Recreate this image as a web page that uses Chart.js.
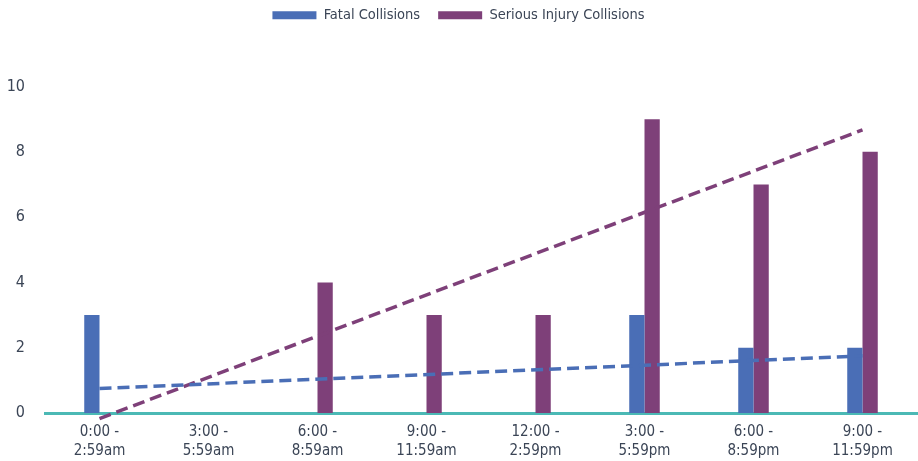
<!DOCTYPE html>
<html>
<head>
<meta charset="utf-8">
<script src="https://cdn.jsdelivr.net/npm/chart.js@4"></script>
<style>
  html, body { margin: 0; padding: 0; background: #fff; }
  #wrap { width: 918px; height: 461px; position: relative; }
</style>
</head>
<body>
<div id="wrap"><canvas id="chart"></canvas></div>
<script>
const categorias = [
  ["0:00 -", "2:59am"],
  ["3:00 -", "5:59am"],
  ["6:00 -", "8:59am"],
  ["9:00 -", "11:59am"],
  ["12:00 -", "2:59pm"],
  ["3:00 -", "5:59pm"],
  ["6:00 -", "8:59pm"],
  ["9:00 -", "11:59pm"]
];
const fatales = [3, 0, 0, 0, 0, 3, 2, 2];
const graves = [0, 0, 4, 3, 3, 9, 7, 8];
// tendencia lineal: valor al inicio y al final
const tendFatal = [0.75, null, null, null, null, null, null, 1.75];
const tendGraves = [-0.17, null, null, null, null, null, null, 8.67];
const ticksY = [0, 2, 4, 6, 8, 10];

const azul = "#4A6EB6";
const morado = "#7E4079";
const teal = "#4BB9B5";
const texto = "#3B4556";
const fuente = "'DejaVu Sans Condensed', 'Roboto', sans-serif";

// deja mas espacio bajo la leyenda
const espacioLeyenda = {
  id: "espacioLeyenda",
  beforeInit(chart) {
    const fitOriginal = chart.legend.fit;
    chart.legend.fit = function () {
      fitOriginal.bind(chart.legend)();
      this.height += 54;
    };
  }
};

const ctx = document.getElementById("chart").getContext("2d");
new Chart(ctx, {
  type: "bar",
  plugins: [espacioLeyenda],
  data: {
    labels: categorias,
    datasets: [
      {
        label: "Fatal Collisions",
        data: fatales,
        backgroundColor: azul,
        order: 2,
        categoryPercentage: 0.28,
        barPercentage: 1.0
      },
      {
        label: "Serious Injury Collisions",
        data: graves,
        backgroundColor: morado,
        order: 2,
        categoryPercentage: 0.28,
        barPercentage: 1.0
      },
      {
        type: "line",
        label: "tendFatal",
        data: tendFatal,
        borderColor: azul,
        borderWidth: 3.5,
        borderDash: [12, 6],
        pointRadius: 0,
        spanGaps: true,
        clip: false,
        order: 0
      },
      {
        type: "line",
        label: "tendGraves",
        data: tendGraves,
        borderColor: morado,
        borderWidth: 3.5,
        borderDash: [12, 6],
        pointRadius: 0,
        spanGaps: true,
        clip: false,
        order: 0
      }
    ]
  },
  options: {
    responsive: true,
    maintainAspectRatio: false,
    animation: false,
    layout: { padding: { top: -10, left: 0, right: 1, bottom: 0 } },
    plugins: {
      tooltip: { enabled: false },
      legend: {
        position: "top",
        labels: {
          filter: (item) => item.datasetIndex < 2,
          boxWidth: 44,
          boxHeight: 8,
          padding: 18,
          color: texto,
          font: { family: fuente, size: 14.5 }
        }
      }
    },
    scales: {
      x: {
        afterFit: (eje) => { eje.height = 48; },
        grid: { display: false, drawTicks: false },
        border: { display: true, color: teal, width: 3 },
        ticks: {
          color: texto,
          font: { family: fuente, size: 15, lineHeight: 1.3 },
          padding: 9,
          maxRotation: 0,
          autoSkip: false
        }
      },
      y: {
        min: 0,
        max: 10,
        afterBuildTicks: (eje) => { eje.ticks = ticksY.map((v) => ({ value: v })); },
        afterFit: (eje) => { eje.width = 45; },
        grid: { display: false, drawTicks: false },
        border: { display: false },
        ticks: {
          color: texto,
          font: { family: fuente, size: 16 },
          padding: 20
        }
      }
    }
  }
});
</script>
</body>
</html>
